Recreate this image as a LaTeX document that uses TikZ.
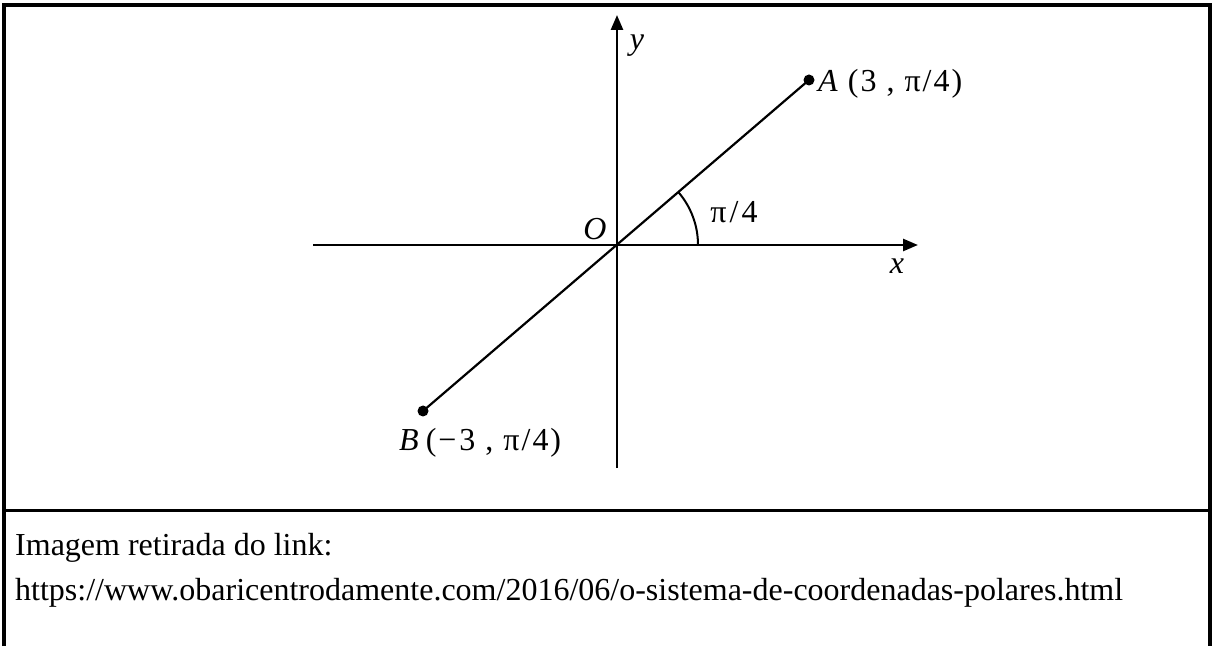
\documentclass[tikz,border=0pt]{standalone}
\usepackage{fontspec}
\setmainfont{Liberation Serif}
\usetikzlibrary{positioning,arrows.meta}

\begin{document}
\begin{tikzpicture}[
  x=1pt,y=1pt,
  frame/.style={line width=3.5pt},
  axis/.style={-{Triangle[length=15pt,width=12pt]},line width=2.6pt},
  ray/.style={line width=2.2pt},
  dot/.style={circle,fill,inner sep=0pt,minimum size=11pt},
  lbl/.style={font=\fontsize{32}{36}\selectfont,inner sep=0pt},
  caption/.style={font=\fontsize{32}{38}\selectfont,anchor=base west,inner sep=0pt}
]
\useasboundingbox (0,0) rectangle (1213,646);

% table frame
\draw[frame] (4,0) -- (4,641) -- (1210,641) -- (1210,0);
\draw[line width=3pt] (4,136) -- (1210,136);

% axes
\coordinate (O) at (617,401);
\coordinate (xmin) at (313,401);
\coordinate (xmax) at (918,401);
\coordinate (ymin) at (617,178);
\coordinate (ymax) at (617,631);
\draw[axis] (xmin) -- (xmax);
\draw[axis] (ymin) -- (ymax);

% the two points and the line through O
\node[dot] (A) at (809,566) {};
\node[dot] (B) at (423,235) {};
\draw[ray] (B.center) -- (A.center);

% angle
\draw[line width=2pt] ([xshift=81pt]O) arc[start angle=0,end angle=40.7,radius=81];

% labels
\node[lbl] (ylab) at (637,600) {\textit{y}};
\node[lbl] (olab) at (595,417) {\textit{O}};
\node[lbl] (xlab) at (897,380) {\textit{x}};
\node[lbl] (angle) at (734,434) {π\kern3pt/\kern3pt4};
\node[lbl,anchor=base west] (alab) at (818,554)
  {\textit{A}\kern10pt(\kern2pt3\kern10pt,\kern10ptπ\kern2pt/\kern2pt4\kern2pt)};
\node[lbl,anchor=base west] (blab) at (399,196)
  {\textit{B}\kern7pt(\kern2pt−\kern3pt3\kern10pt,\kern10ptπ\kern2pt/\kern2pt4\kern2pt)};

% caption
\node[caption] (src) at (15,91) {Imagem retirada do link:};
\node[caption] (url) at (15,46) {https://www.obaricentrodamente.com/2016/06/o-sistema-de-coordenadas-polares.html};

\end{tikzpicture}
\end{document}
